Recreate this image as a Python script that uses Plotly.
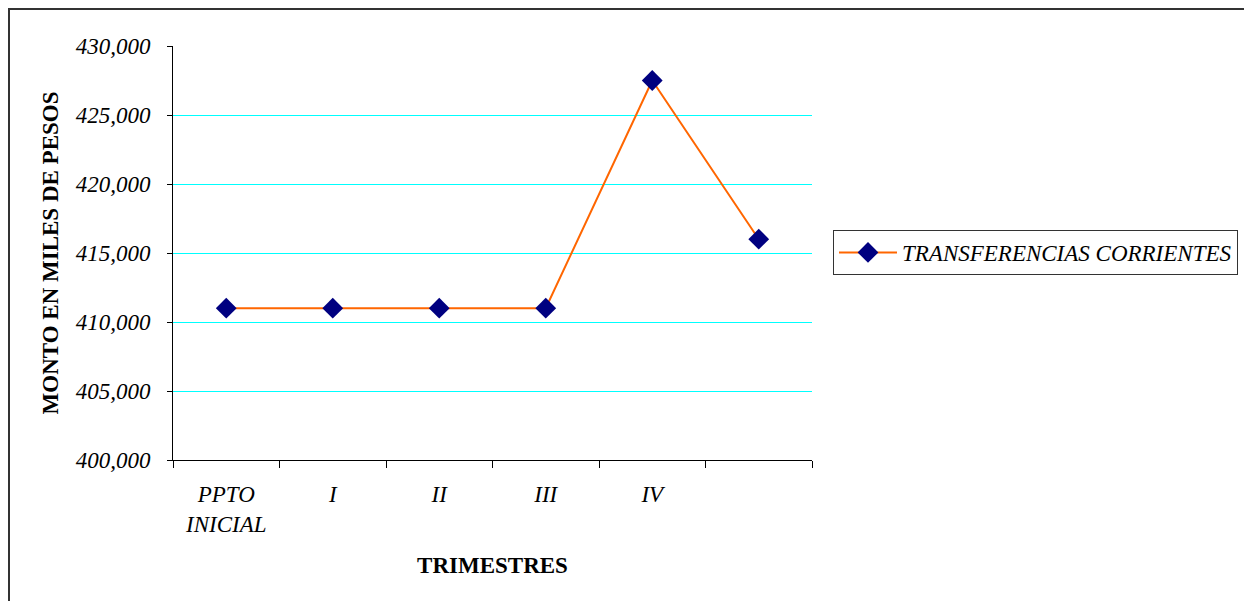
import plotly.graph_objects as go

categories = ["PPTO<br>INICIAL", "I", "II", "III", "IV", " "]
values = [411000, 411000, 411000, 411000, 427500, 416000]
series_name = "TRANSFERENCIAS CORRIENTES"
y_ticks = [400000, 405000, 410000, 415000, 420000, 425000, 430000]

# page is offset by the default 8px body margin
OFF = 8
W, H = 1252 - OFF, 601 - OFF
L, R, T, B = 173 - OFF, 812 - OFF, 46 - OFF, 460 - OFF
pw, ph = R - L, B - T

def px_x(x):
    return (x - OFF - L) / pw

def px_y(y):
    return (B - (y - OFF)) / ph

fig = go.Figure()
fig.add_trace(go.Scatter(
    x=categories, y=values, mode="lines+markers", name=series_name,
    line=dict(color="#FF6600", width=2),
    marker=dict(symbol="diamond", size=16, color="#000080"),
))

serif = "Liberation Serif, Times New Roman, DejaVu Serif, serif"
fig.update_layout(
    width=W, height=H,
    margin=dict(l=L, r=W - R, t=T, b=H - B),
    paper_bgcolor="white", plot_bgcolor="white",
    font=dict(family=serif, color="black"),
    showlegend=True,
    legend=dict(
        x=px_x(833), y=px_y(252.5), xanchor="left", yanchor="middle",
        bordercolor="#333333", borderwidth=1, bgcolor="white",
        font=dict(family=serif, size=23, style="italic"),
        itemwidth=58,
    ),
    xaxis=dict(
        type="category", categoryorder="array", categoryarray=categories,
        range=[-0.5, len(categories) - 0.5],
        tickson="boundaries",
        showgrid=False, zeroline=False,
        showline=True, linecolor="black", linewidth=1,
        ticks="outside", ticklen=7, tickcolor="black",
        tickfont=dict(family=serif, size=23, style="italic"),
        ticklabelstandoff=13,
        title=dict(text="<b>TRIMESTRES</b>", font=dict(family=serif, size=23), standoff=21),
    ),
    yaxis=dict(
        range=[400000, 430000], tickmode="array", tickvals=y_ticks,
        ticktext=[f"{v:,}" for v in y_ticks],
        showgrid=True, gridcolor="#00FFFF", gridwidth=1,
        zeroline=False,
        showline=True, linecolor="black", linewidth=1,
        ticks="outside", ticklen=5, tickcolor="black",
        tickfont=dict(family=serif, size=23, style="italic"),
        ticklabelstandoff=12,
        title=dict(text="<b>MONTO EN MILES DE PESOS</b>", font=dict(family=serif, size=23), standoff=10),
    ),
    shapes=[
        dict(type="line", xref="paper", yref="paper",
             x0=px_x(8), x1=px_x(1262), y0=px_y(9), y1=px_y(9),
             line=dict(color="#333333", width=2)),
        dict(type="line", xref="paper", yref="paper",
             x0=px_x(9), x1=px_x(9), y0=px_y(8), y1=px_y(612),
             line=dict(color="#333333", width=2)),
    ],
)

fig.write_html("out.html")
